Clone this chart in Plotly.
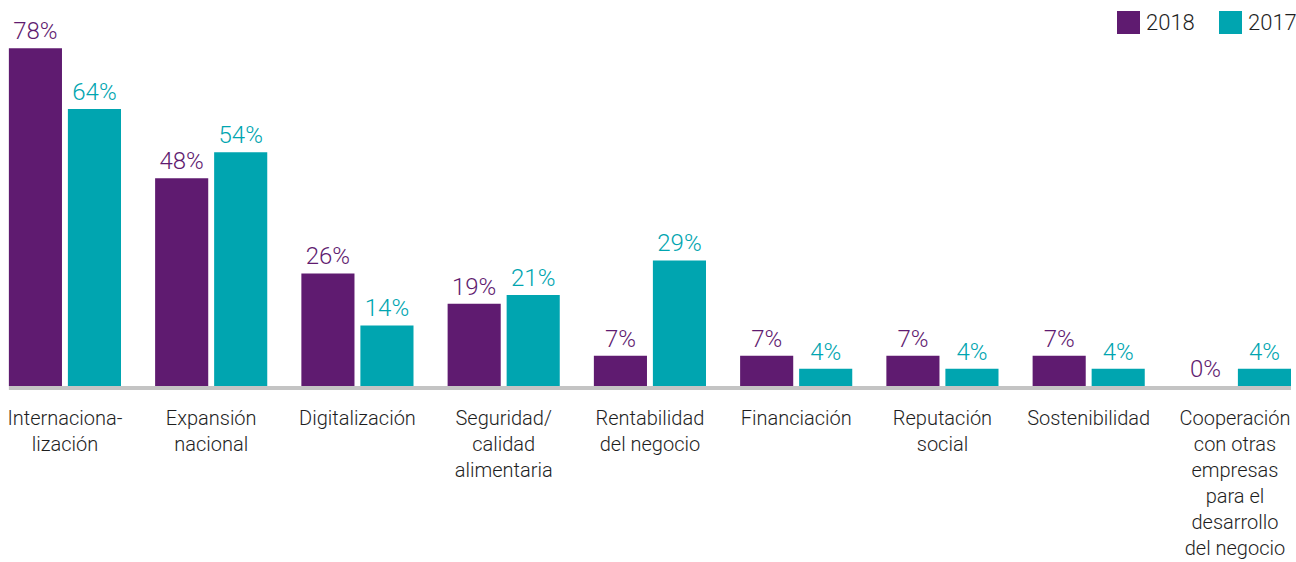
import plotly.graph_objects as go

# Prioridades estratégicas: porcentaje de respuestas por año
categorias = [
    "Internaciona-<br>lización",
    "Expansión<br>nacional",
    "Digitalización",
    "Seguridad/<br>calidad<br>alimentaria",
    "Rentabilidad<br>del negocio",
    "Financiación",
    "Reputación<br>social",
    "Sostenibilidad",
    "Cooperación<br>con otras<br>empresas<br>para el<br>desarrollo<br>del negocio",
]
valores_2018 = [78, 48, 26, 19, 7, 7, 7, 7, 0]
valores_2017 = [64, 54, 14, 21, 29, 4, 4, 4, 4]
series = ["2018", "2017"]

MORADO = "#5f1b70"
TURQUESA = "#00a5b0"
FUENTE = "Roboto"
PESO = 300

W, H = 1296, 562
MARGEN_INF = 176
ALTO_PLOT = H - MARGEN_INF
Y_MAX = ALTO_PLOT / 4.33
BARGAP = 0.193
GROUPGAP = 0.10
X0 = -0.444
X1 = X0 + W / 146.25

fig = go.Figure()
for nombre, valores, color in [(series[0], valores_2018, MORADO), (series[1], valores_2017, TURQUESA)]:
    fig.add_trace(go.Bar(
        x=categorias, y=valores, name=nombre,
        marker=dict(color=color, line=dict(width=0)),
        texttemplate="%{y}%", textposition="outside", textangle=0,
        textfont=dict(family=FUENTE, size=24, color=color, weight=PESO),
        cliponaxis=False, showlegend=False,
    ))

# Línea base bajo las barras
media_grupo = (1 - BARGAP) / 2 - (1 - BARGAP) / 2 * GROUPGAP / 2
fig.add_shape(type="line", xref="x", yref="paper",
              x0=-media_grupo, x1=len(categorias) - 1 + media_grupo,
              y0=-2 / ALTO_PLOT, y1=-2 / ALTO_PLOT,
              line=dict(color="#c4c4c4", width=4))

# Leyenda superior derecha
def px_x(p):
    return p / W

def px_y(p):
    return (ALTO_PLOT - p) / ALTO_PLOT

for izq, nombre, color in [(1117, series[0], MORADO), (1219, series[1], TURQUESA)]:
    fig.add_shape(type="rect", xref="paper", yref="paper",
                  x0=px_x(izq), x1=px_x(izq + 23), y0=px_y(34), y1=px_y(11),
                  fillcolor=color, line=dict(width=0))
    fig.add_annotation(xref="paper", yref="paper", x=px_x(izq + 27), y=px_y(23),
                       text=nombre, showarrow=False, xanchor="left", yanchor="middle",
                       font=dict(family=FUENTE, size=22, color="#1e1e1e", weight=PESO))

fig.update_layout(
    width=W, height=H,
    margin=dict(l=0, r=0, t=0, b=MARGEN_INF, pad=0),
    paper_bgcolor="white", plot_bgcolor="white",
    barmode="group", bargap=BARGAP, bargroupgap=GROUPGAP,
    showlegend=False,
    font=dict(family=FUENTE, color="#1e1e1e", weight=PESO),
)
fig.update_xaxes(range=[X0, X1], automargin=False, showgrid=False, zeroline=False,
                 showline=False, ticks="",
                 tickfont=dict(family=FUENTE, size=20, color="#1e1e1e", weight=PESO),
                 ticklabelstandoff=18, tickangle=0)
fig.update_yaxes(range=[0, Y_MAX], automargin=False, visible=False, showgrid=False,
                 zeroline=False)

fig.write_html("out.html")
